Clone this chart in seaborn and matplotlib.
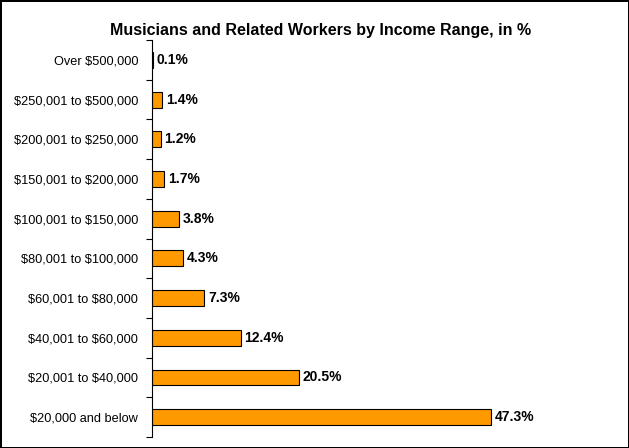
import numpy as np
import pandas as pd
import matplotlib
matplotlib.use("Agg")
import matplotlib.pyplot as plt
import seaborn as sns

# income ranges, top to bottom as in the chart
ranges = ["Over $500,000", "$250,001 to $500,000", "$200,001 to $250,000",
          "$150,001 to $200,000", "$100,001 to $150,000", "$80,001 to $100,000",
          "$60,001 to $80,000", "$40,001 to $60,000", "$20,001 to $40,000",
          "$20,000 and below"]
shares = [0.1, 1.4, 1.2, 1.7, 3.8, 4.3, 7.3, 12.4, 20.5, 47.3]

data = pd.DataFrame({"range": ranges, "share": shares})

sns.set_style("white")
plt.rcParams["font.family"] = ["Liberation Sans", "DejaVu Sans"]
plt.rcParams["text.parse_math"] = False
plt.rcParams["text.color"] = "black"
plt.rcParams["ytick.labelcolor"] = "black"

fig = plt.figure(figsize=(6.29, 4.48), dpi=100)
fig.patch.set_edgecolor("black")
fig.patch.set_linewidth(2)
ax = fig.add_axes([0.2417, 0.0246, 0.73, 0.886])

sns.barplot(data=data, y="range", x="share", color="#FF9900", width=0.4,
            edgecolor="black", linewidth=0.8, saturation=1, ax=ax)

ax.set_xlim(0, 47.3 * 0.73 * 629 / (491 - 152))
ax.set_ylim(len(ranges) - 0.5, -0.5)
for i, v in enumerate(shares):
    ax.text(v + 0.5, i, f"{v}%", va="center", ha="left",
            fontsize=10, fontweight="bold", color="black")

ax.set_yticks(np.arange(len(ranges)), labels=ranges, fontsize=9.2)
ax.tick_params(axis="y", which="major", left=True, length=0, pad=10,
               labelcolor="black")
ax.set_yticks(np.arange(-0.5, len(ranges)), minor=True)
ax.tick_params(axis="y", which="minor", left=True, length=4, width=0.8,
               color="black", direction="out")
ax.set_xticks([])
ax.set_xlabel("")
ax.set_ylabel("")
for side in ["top", "right", "bottom"]:
    ax.spines[side].set_visible(False)
ax.spines["left"].set_color("black")
ax.spines["left"].set_linewidth(0.8)

fig.text(0.509, 0.933, "Musicians and Related Workers by Income Range, in %",
         ha="center", va="center", fontsize=11.5, fontweight="bold",
         color="black")

fig.savefig("out.png", dpi=100)
